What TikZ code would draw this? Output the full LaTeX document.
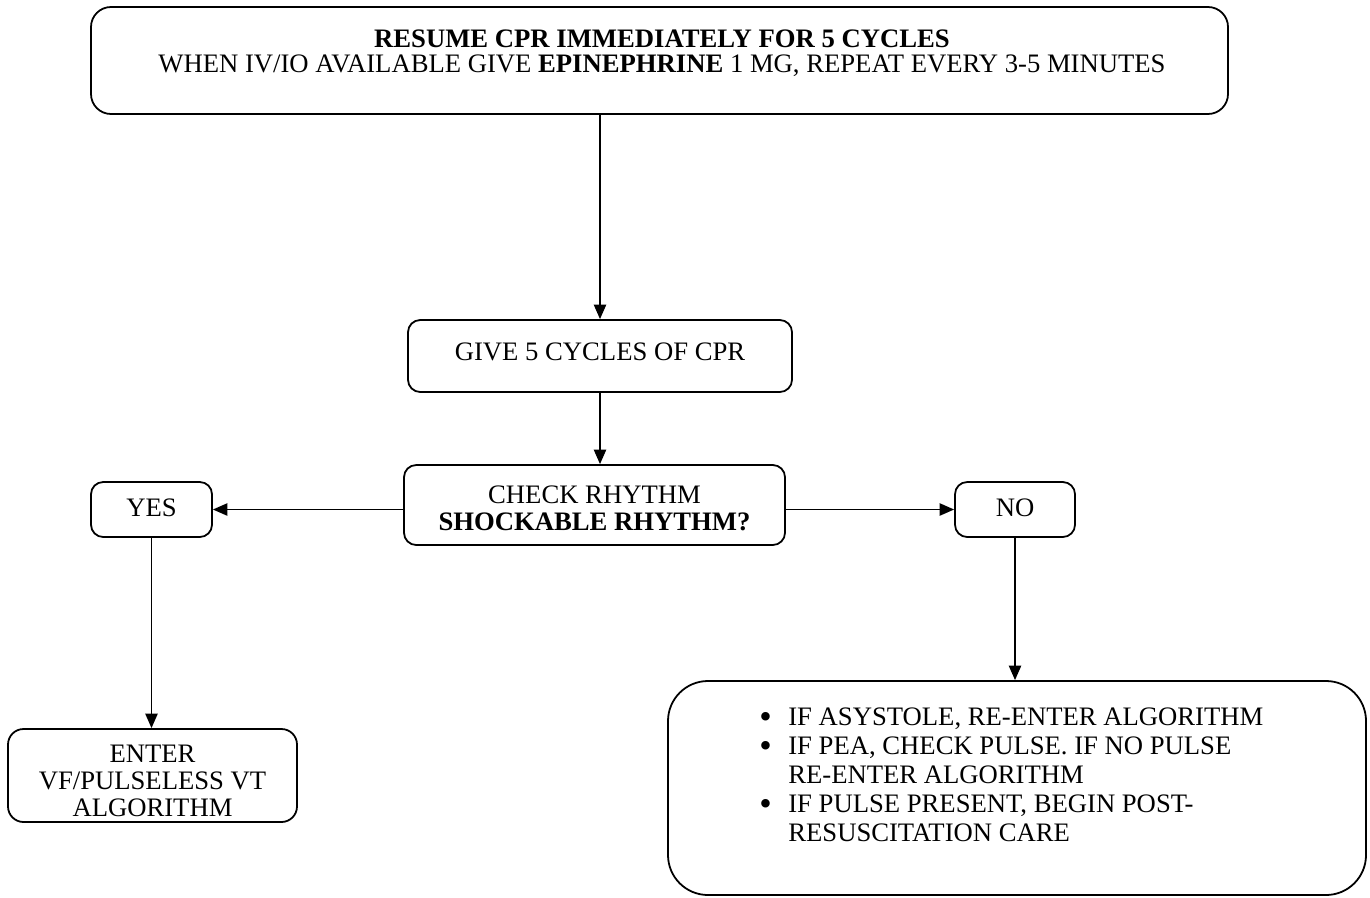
\documentclass[tikz,border=0pt]{standalone}
\usepackage{fontspec}
\setmainfont{Liberation Serif}
\usetikzlibrary{arrows.meta}
\newcommand{\bigbul}{\makebox[13pt][l]{\smash{\raisebox{-1.2pt}{\fontsize{16}{16}\selectfont\textbullet}}}}
\newcommand{\nobul}{\makebox[13pt][l]{}}
\begin{document}
\begin{tikzpicture}[x=0.45pt,y=-0.45pt,
  box/.style={draw, line width=0.8pt, rounded corners=#1, inner sep=0pt},
  box/.default=5.5pt,
  txt/.style={inner sep=0pt, align=center, font=\fontsize{12}{12.2}\selectfont},
  arr/.style={line width=0.75pt, -{Triangle[width=5.5pt,length=6.5pt]}}]
\useasboundingbox (0,0) rectangle (1370,897);
% boxes
\node[box=9pt, minimum width=511.65pt, minimum height=48.15pt] (top) at (659.5,60.5) {};
\node[box, minimum width=172.8pt, minimum height=32.4pt] (give) at (600,356) {};
\node[box, minimum width=171.45pt, minimum height=36pt] (check) at (594.5,505) {};
\node[box, minimum width=54.45pt, minimum height=24.75pt] (yes) at (151.5,509.5) {};
\node[box, minimum width=54pt, minimum height=24.75pt] (no) at (1015,509.5) {};
\node[box=7pt, minimum width=130.05pt, minimum height=41.85pt] (enter) at (152.5,775.5) {};
\node[box=18pt, minimum width=314.1pt, minimum height=96.3pt] (care) at (1017,788) {};
% texts
\node[txt, font=\fontsize{12}{11.3}\selectfont] (topT) at (662,53)
  {\textbf{RESUME CPR IMMEDIATELY FOR 5 CYCLES}\\
   WHEN IV/IO AVAILABLE GIVE \textbf{EPINEPHRINE} 1 MG, REPEAT EVERY 3-5 MINUTES};
\node[txt] (giveT) at (600,352) {GIVE 5 CYCLES OF CPR};
\node[txt] (checkT) at (594.5,508.5) {CHECK RHYTHM\\\textbf{SHOCKABLE RHYTHM?}};
\node[txt] (yesT) at (151.5,508) {YES};
\node[txt] (noT) at (1015,508) {NO};
\node[txt] (enterT) at (152.5,781) {ENTER\\VF/PULSELESS VT\\ALGORITHM};
\node[txt, align=left, anchor=west, font=\fontsize{12}{13}\selectfont] (careT) at (759,775)
  {\bigbul IF ASYSTOLE, RE-ENTER ALGORITHM\\
   \bigbul IF PEA, CHECK PULSE. IF NO PULSE\\
   \nobul RE-ENTER ALGORITHM\\
   \bigbul IF PULSE PRESENT, BEGIN POST-\\
   \nobul RESUSCITATION CARE};
% connectors
\draw[arr] (give.north |- top.south) -- (give.north);
\draw[arr] (give.south) -- (give.south |- check.north);
\draw[arr] (check.west |- yes.east) -- (yes.east);
\draw[arr] (check.east |- no.west) -- (no.west);
\draw[arr] (yes.south) -- (yes.south |- enter.north);
\draw[arr] (no.south) -- (no.south |- care.north);
\end{tikzpicture}
\end{document}
